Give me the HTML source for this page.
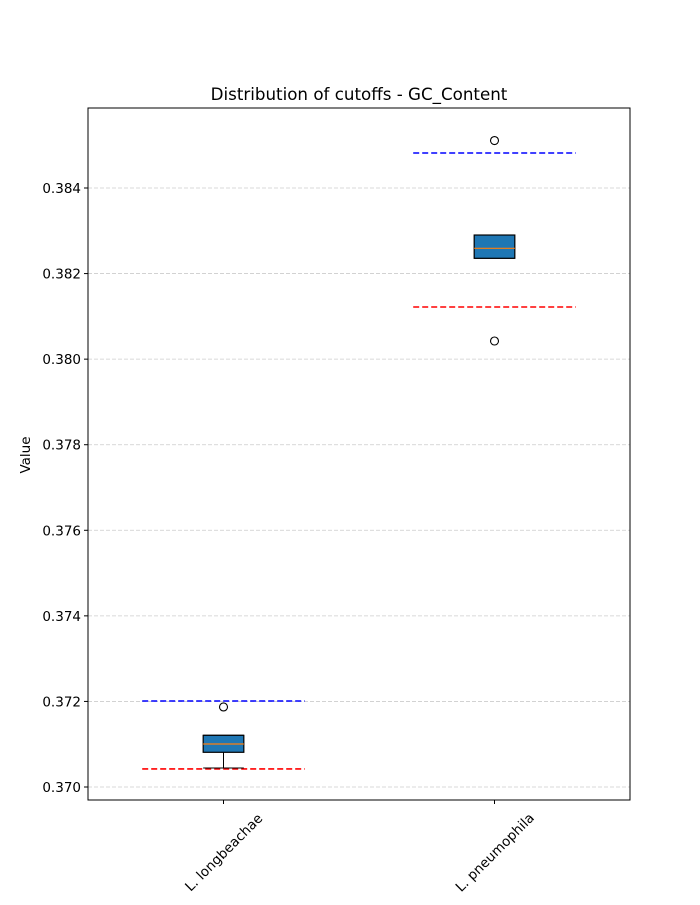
<!DOCTYPE html>
<html><head><meta charset="utf-8"><style>
body{margin:0;background:#fff;}
svg text{font-family:"DejaVu Sans","Liberation Sans",sans-serif;}
</style></head><body>
<svg id="chart" width="700" height="900">
<rect width="700" height="900" fill="#fff"/>
<text x="359" y="100" font-size="16.7" text-anchor="middle">Distribution of cutoffs - GC_Content</text>
<g id="grid"></g><g id="marks"></g><g id="axes"></g>
</svg>
<script>
const categories=["L. longbeachae","L. pneumophila"];
const q1=[0.370811,0.382357];
const medians=[0.371005,0.382590];
const q3=[0.371208,0.382901];
const whiskerLow=[0.370444,0.382357];
const whiskerHigh=[0.371208,0.382901];
const outliers=[[0.371870],[0.385110,0.380424]];
const upperCutoff=[0.372010,0.384818];
const lowerCutoff=[0.370421,0.381219];
const yTicks=[0.370,0.372,0.374,0.376,0.378,0.380,0.382,0.384];

const L=88,R=630,T=108,B=800,yMin=0.369696,yMax=0.385870;
const y=v=>B-(v-yMin)/(yMax-yMin)*(B-T);
const x=i=>L+(i+0.5)/categories.length*(R-L);
const ns="http://www.w3.org/2000/svg";
function mk(parent,tag,attrs){const e=document.createElementNS(ns,tag);for(const k in attrs)e.setAttribute(k,attrs[k]);document.getElementById(parent).appendChild(e);return e;}
const bw=(R-L)*0.075, lw=(R-L)*0.15;
yTicks.forEach(t=>{
  const g=mk('grid','line',{x1:L,x2:R,y1:y(t),y2:y(t),stroke:'#ccc','stroke-dasharray':'4,2','stroke-width':0.8});
  
  
  const tk=mk('axes','line',{x1:L-4,x2:L,y1:y(t),y2:y(t),stroke:'#000'});
  
  
  const tx=mk('axes','text',{x:L-7,y:y(t)+5,'font-size':13.5,'text-anchor':'end'});
  tx.textContent=t.toFixed(3);
  
  
});
categories.forEach((c,i)=>{
  const cx=x(i);
  [[upperCutoff[i],'blue'],[lowerCutoff[i],'red']].forEach(([v,col])=>{
    const l=mk('marks','line',{x1:cx-lw,x2:cx+lw,y1:y(v),y2:y(v),stroke:col,'stroke-width':1.6,'stroke-dasharray':'6,3'});
    
    
  });
  [[whiskerLow[i],q1[i]],[whiskerHigh[i],q3[i]]].forEach(([w,q])=>{
    const wl=mk('marks','line',{x1:cx,x2:cx,y1:y(w),y2:y(q),stroke:'#000'});
    
    
    const cap=mk('marks','line',{x1:cx-bw/2,x2:cx+bw/2,y1:y(w),y2:y(w),stroke:'#000'});
    
    
  });
  const box=mk('marks','rect',{x:cx-bw/2,y:y(q3[i]),width:bw,height:y(q1[i])-y(q3[i]),fill:'#1f77b4',stroke:'#000','stroke-width':1.2});
  
  
  const m=mk('marks','line',{x1:cx-bw/2,x2:cx+bw/2,y1:y(medians[i]),y2:y(medians[i]),stroke:'#ff7f0e','stroke-width':1.2});
  
  
  outliers[i].forEach(o=>{
    const p=mk('marks','circle',{cx:cx,cy:y(o),r:4,fill:'none',stroke:'#000','stroke-width':1.1});
    
    
  });
  const tk=mk('axes','line',{x1:cx,x2:cx,y1:B,y2:B+4,stroke:'#000'});
  
  
  const ly=B+52;
  const tx=mk('axes','text',{x:cx,y:ly+5,'font-size':13.5,'text-anchor':'middle',transform:`rotate(-45 ${cx} ${ly})`});
  tx.textContent=c;
  
  
});
const fr=mk('axes','rect',{x:L,y:T,width:R-L,height:B-T,fill:'none',stroke:'#000','stroke-width':1});


const yl=mk('axes','text',{x:30,y:455,'font-size':13.5,'text-anchor':'middle',transform:'rotate(-90 30 455)'});
yl.textContent='Value';


</script>
</body></html>
